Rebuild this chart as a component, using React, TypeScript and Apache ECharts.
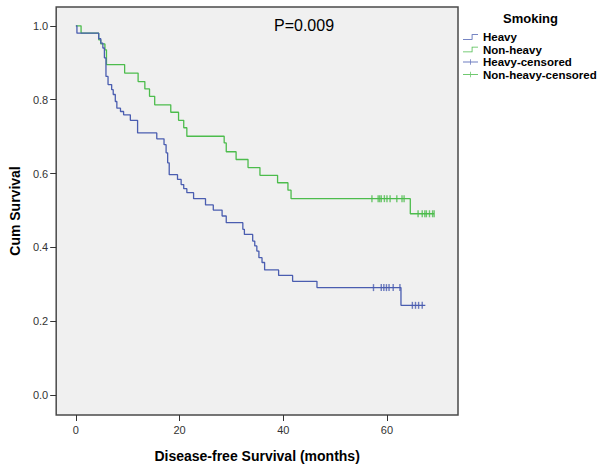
import React, { useEffect, useRef } from "react";
import * as echarts from "echarts";

// Kaplan-Meier step data (months, cumulative survival)
const heavyTimes = [0, 0.2, 4.4, 4.8, 5.2, 5.5, 5.8, 6.2, 6.9, 7.2, 7.6, 7.9, 8.6, 9.2, 10.5, 11.9, 15.6, 17.0, 17.4, 17.7, 18.0, 19.6, 20.3, 20.8, 21.4, 22.7, 25.0, 26.5, 28.2, 29.0, 32.2, 32.5, 34.1, 34.5, 34.9, 35.3, 35.9, 36.4, 39.1, 41.8, 46.5, 62.7, 67.4];
const heavySurv = [1.0, 0.98, 0.965, 0.953, 0.94, 0.913, 0.863, 0.841, 0.827, 0.814, 0.795, 0.777, 0.768, 0.759, 0.744, 0.71, 0.694, 0.678, 0.656, 0.629, 0.597, 0.584, 0.57, 0.559, 0.548, 0.532, 0.515, 0.501, 0.485, 0.467, 0.449, 0.435, 0.417, 0.404, 0.39, 0.372, 0.359, 0.339, 0.324, 0.308, 0.291, 0.243, 0.243];

const nonHeavyTimes = [0, 1.0, 4.4, 4.8, 5.6, 5.9, 9.4, 12.0, 13.3, 14.2, 15.2, 18.3, 19.8, 20.8, 21.4, 28.6, 29.0, 30.9, 33.2, 35.5, 38.9, 40.9, 41.5, 64.5, 69.1];
const nonHeavySurv = [1.0, 0.98, 0.962, 0.951, 0.935, 0.895, 0.872, 0.849, 0.829, 0.809, 0.786, 0.766, 0.744, 0.724, 0.701, 0.683, 0.659, 0.638, 0.616, 0.595, 0.575, 0.555, 0.532, 0.491, 0.491];

const heavyCensorTimes = [57.4, 58.9, 59.4, 59.9, 60.4, 61.2, 62.5, 64.9, 65.5, 66.1, 66.8];
const heavyCensorSurv = [0.291, 0.291, 0.291, 0.291, 0.291, 0.291, 0.291, 0.243, 0.243, 0.243, 0.243];

const nonHeavyCensorTimes = [57.1, 58.3, 58.6, 58.9, 59.5, 60.0, 60.6, 61.9, 62.9, 63.3, 66.0, 66.8, 67.3, 67.6, 68.2, 68.8, 69.1];
const nonHeavyCensorSurv = [0.532, 0.532, 0.532, 0.532, 0.532, 0.532, 0.532, 0.532, 0.532, 0.532, 0.491, 0.491, 0.491, 0.491, 0.491, 0.491, 0.491];

const xTicks = [0, 20, 40, 60];
const yTicks = [0, 0.2, 0.4, 0.6, 0.8, 1.0];

const seriesNames = ["Heavy", "Non-heavy", "Heavy-censored", "Non-heavy-censored"];
const pValueText = "P=0.009";
const legendTitle = "Smoking";
const xTitle = "Disease-free Survival (months)";
const yTitle = "Cum Survival";

const BLUE = "#4a5db0";
const GREEN = "#4cbc4c";
const FONT = '"Liberation Sans", Arial, sans-serif';

const zip = (a: number[], b: number[]) => a.map((v, i) => [v, b[i]]);

const stepIcon = "path://M0,6 L11,6 L11,0 L19,0 L19,1 L12,1 L12,7 L0,7 Z";
const censorIcon = "path://M0,3 L19,3 L19,4 L0,4 Z M9,0 L10,0 L10,7 L9,7 Z";

export default function App() {
  const ref = useRef<HTMLDivElement>(null);

  useEffect(() => {
    if (!ref.current) return;
    const chart = echarts.init(ref.current, undefined, { renderer: "svg" });
    chart.setOption({
      animation: false,
      backgroundColor: "#ffffff",
      textStyle: { fontFamily: FONT },
      title: [
        {
          text: legendTitle,
          left: 503,
          top: 12,
          padding: 0,
          textStyle: { fontFamily: FONT, fontSize: 13, fontWeight: "bold", color: "#000" },
        },
        {
          text: pValueText,
          left: 274,
          top: 17,
          padding: 0,
          textStyle: { fontFamily: FONT, fontSize: 16, fontWeight: "normal", color: "#000" },
        },
      ],
      legend: {
        orient: "vertical",
        left: 463,
        top: 31,
        padding: 0,
        itemGap: 0.5,
        itemWidth: 15,
        itemHeight: 7,
        textStyle: { fontFamily: FONT, fontSize: 11.5, fontWeight: "bold", color: "#000", lineHeight: 12 },
        data: [
          { name: seriesNames[0], icon: stepIcon },
          { name: seriesNames[1], icon: stepIcon },
          { name: seriesNames[2], icon: censorIcon },
          { name: seriesNames[3], icon: censorIcon },
        ],
      },
      grid: {
        left: 50,
        top: 7,
        right: 142,
        bottom: 52,
        show: true,
        backgroundColor: "#f0f0f0",
        borderColor: "#4a4a4a",
        borderWidth: 1.5,
        containLabel: false,
      },
      xAxis: {
        type: "value",
        min: -3.8,
        max: 73.7,
        name: xTitle,
        nameLocation: "middle",
        nameGap: 34,
        nameTextStyle: { fontFamily: FONT, fontSize: 14, fontWeight: "bold", color: "#000" },
        axisLine: { show: false, onZero: false },
        axisTick: { show: true, length: 6, customValues: xTicks, lineStyle: { color: "#333", width: 1 } },
        axisLabel: { customValues: xTicks, margin: 9, fontSize: 11, color: "#333", fontFamily: FONT },
        splitLine: { show: false },
      },
      yAxis: {
        type: "value",
        min: -0.054,
        max: 1.051,
        name: yTitle,
        nameLocation: "middle",
        nameGap: 20,
        nameTextStyle: { fontFamily: FONT, fontSize: 14, fontWeight: "bold", color: "#000" },
        axisLine: { show: false, onZero: false },
        axisTick: { show: true, length: 6, customValues: yTicks, lineStyle: { color: "#333", width: 1 } },
        axisLabel: {
          customValues: yTicks,
          margin: 8,
          fontSize: 11,
          color: "#333",
          fontFamily: FONT,
          formatter: (v: number) => v.toFixed(1),
        },
        splitLine: { show: false },
      },
      series: [
        {
          name: seriesNames[0],
          type: "line",
          step: "end",
          showSymbol: false,
          data: zip(heavyTimes, heavySurv),
          lineStyle: { color: BLUE, width: 1.3 },
          itemStyle: { color: BLUE },
          z: 3,
        },
        {
          name: seriesNames[1],
          type: "line",
          step: "end",
          showSymbol: false,
          data: zip(nonHeavyTimes, nonHeavySurv),
          lineStyle: { color: GREEN, width: 1.3 },
          itemStyle: { color: GREEN },
          z: 2,
        },
        {
          name: seriesNames[2],
          type: "scatter",
          symbol: "rect",
          symbolSize: [1.4, 7],
          data: zip(heavyCensorTimes, heavyCensorSurv),
          itemStyle: { color: BLUE },
          z: 4,
        },
        {
          name: seriesNames[3],
          type: "scatter",
          symbol: "rect",
          symbolSize: [1.4, 7],
          data: zip(nonHeavyCensorTimes, nonHeavyCensorSurv),
          itemStyle: { color: GREEN },
          z: 4,
        },
      ],
    });
    return () => chart.dispose();
  }, []);

  return (
    <div
      ref={ref}
      style={{ position: "absolute", left: 0, top: 0, width: 600, height: 468, background: "#fff" }}
    />
  );
}
